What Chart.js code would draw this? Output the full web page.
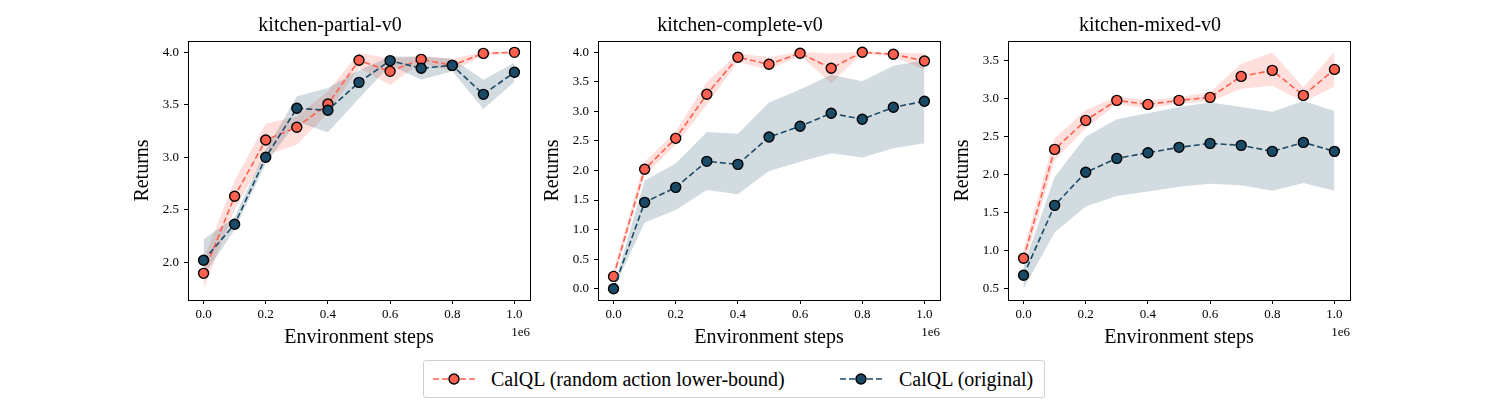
<!DOCTYPE html>
<html>
<head>
<meta charset="utf-8">
<script src="https://cdn.jsdelivr.net/npm/chart.js@4/dist/chart.umd.min.js"></script>
<style>
  html, body { margin: 0; padding: 0; background: #fff; width: 1500px; height: 400px; overflow: hidden; }
  canvas { position: absolute; top: 0; }
  #legend { position: absolute; left: 423px; top: 360px; width: 620px; height: 36px;
    border: 1px solid #d0d0d0; border-radius: 3px; font-family: "Liberation Serif", serif; font-size: 20px; color: #000; }
  .li { position: absolute; top: 0; height: 36px; line-height: 36px; white-space: nowrap; }
  .li svg { position: absolute; top: 11px; left: 0; }
  .li span { position: absolute; top: 0; }
</style>
</head>
<body>
<canvas id="c0" width="410" height="352" style="left:130px"></canvas>
<canvas id="c1" width="410" height="352" style="left:540px"></canvas>
<canvas id="c2" width="410" height="352" style="left:950px"></canvas>
<div id="legend"></div>
<script>
// ---------- data ----------
const steps = [0, 100000, 200000, 300000, 400000, 500000, 600000, 700000, 800000, 900000, 1000000];
const xTicks = [0, 200000, 400000, 600000, 800000, 1000000];
const titles = ["kitchen-partial-v0", "kitchen-complete-v0", "kitchen-mixed-v0"];
const seriesNames = ["CalQL (random action lower-bound)", "CalQL (original)"];

// kitchen-partial-v0
const partialRandMean = [1.895, 2.629, 3.165, 3.286, 3.508, 3.924, 3.819, 3.933, 3.876, 3.99, 4.0];
const partialRandUpper = [2.03, 2.78, 3.32, 3.39, 3.63, 3.997, 3.94, 3.965, 3.94, 4.0, 4.0];
const partialRandLower = [1.75, 2.50, 3.02, 3.12, 3.42, 3.85, 3.69, 3.90, 3.82, 3.97, 3.99];
const partialOrigMean = [2.019, 2.362, 3.0, 3.467, 3.448, 3.714, 3.921, 3.848, 3.876, 3.60, 3.81];
const partialOrigUpper = [2.22, 2.43, 3.07, 3.58, 3.66, 3.83, 3.96, 3.96, 3.94, 3.74, 3.90];
const partialOrigLower = [1.87, 2.31, 2.94, 3.34, 3.24, 3.56, 3.88, 3.74, 3.82, 3.46, 3.72];

// kitchen-complete-v0
const completeRandMean = [0.209, 2.02, 2.544, 3.289, 3.915, 3.797, 3.983, 3.729, 4.0, 3.966, 3.853];
const completeRandUpper = [0.32, 2.15, 2.66, 3.50, 3.98, 3.915, 4.01, 3.98, 4.01, 3.995, 3.98];
const completeRandLower = [0.15, 1.92, 2.43, 3.11, 3.84, 3.70, 3.95, 3.475, 3.98, 3.93, 3.70];
const completeOrigMean = [0.0, 1.461, 1.715, 2.155, 2.104, 2.567, 2.748, 2.968, 2.866, 3.069, 3.171];
const completeOrigUpper = [0.03, 1.83, 2.12, 2.65, 2.62, 3.15, 3.37, 3.62, 3.51, 3.77, 3.86];
const completeOrigLower = [-0.01, 1.12, 1.33, 1.67, 1.60, 1.99, 2.15, 2.29, 2.22, 2.375, 2.46];

// kitchen-mixed-v0
const mixedRandMean = [0.899, 2.333, 2.715, 2.978, 2.925, 2.978, 3.018, 3.294, 3.373, 3.044, 3.386];
const mixedRandUpper = [1.01, 2.48, 2.85, 3.03, 2.98, 3.02, 3.09, 3.46, 3.61, 3.15, 3.62];
const mixedRandLower = [0.79, 2.19, 2.61, 2.93, 2.87, 2.94, 2.96, 3.13, 3.17, 2.96, 3.16];
const mixedOrigMean = [0.675, 1.596, 2.031, 2.215, 2.289, 2.36, 2.412, 2.386, 2.307, 2.425, 2.307];
const mixedOrigUpper = [0.79, 1.97, 2.50, 2.73, 2.81, 2.89, 2.95, 2.89, 2.83, 2.97, 2.84];
const mixedOrigLower = [0.50, 1.24, 1.58, 1.72, 1.78, 1.84, 1.88, 1.86, 1.79, 1.89, 1.79];

// axis ranges (matplotlib auto-limits)
const yRanges = [[1.641, 4.108], [-0.19, 4.19], [0.35, 3.76]];
const xRange = [-50000, 1050000];

const panels = [
  [partialRandMean, partialRandUpper, partialRandLower, partialOrigMean, partialOrigUpper, partialOrigLower],
  [completeRandMean, completeRandUpper, completeRandLower, completeOrigMean, completeOrigUpper, completeOrigLower],
  [mixedRandMean, mixedRandUpper, mixedRandLower, mixedOrigMean, mixedOrigUpper, mixedOrigLower]
];

// ---------- styles ----------
const RED = '#FF6150';
const BLUE = '#1B4A66';
const RED_FILL = 'rgba(255,97,80,0.2)';
const BLUE_FILL = 'rgba(27,74,102,0.2)';
const FONT = '"Liberation Serif", "Times New Roman", serif';

const pts = arr => arr.map((v, i) => ({x: steps[i], y: v}));

const framePlugin = {
  id: 'frame',
  afterDraw(chart) {
    const {ctx, chartArea: a} = chart;
    ctx.save();
    ctx.strokeStyle = '#000';
    ctx.lineWidth = 1;
    ctx.strokeRect(Math.round(a.left) + 0.5, Math.round(a.top) + 0.5, Math.round(a.right - a.left), Math.round(a.bottom - a.top));
    ctx.fillStyle = '#000';
    ctx.font = '13px ' + FONT;
    ctx.textAlign = 'right';
    ctx.textBaseline = 'middle';
    ctx.fillText('1e6', a.right, 333);
    ctx.restore();
  }
};

function meanDs(label, data, color) {
  return {
    label, data: pts(data), borderColor: color, backgroundColor: color,
    borderWidth: 1.6, borderDash: [6, 3], pointRadius: 5, pointHoverRadius: 5,
    pointBackgroundColor: color, pointBorderColor: '#000', pointBorderWidth: 1.4,
    fill: false, tension: 0
  };
}
function bandDs(data, fill, color) {
  return {
    label: '', data: pts(data), borderWidth: 0, borderColor: 'rgba(0,0,0,0)',
    pointRadius: 0, pointHoverRadius: 0, backgroundColor: color, fill, tension: 0
  };
}

panels.forEach((p, k) => {
  const [rm, ru, rl, om, ou, ol] = p;
  new Chart(document.getElementById('c' + k), {
    type: 'line',
    data: {
      datasets: [
        meanDs(seriesNames[1], om, BLUE),
        meanDs(seriesNames[0], rm, RED),
        bandDs(ou, false, BLUE_FILL),
        bandDs(ol, '-1', BLUE_FILL),
        bandDs(ru, false, RED_FILL),
        bandDs(rl, '-1', RED_FILL)
      ]
    },
    options: {
      responsive: false, animation: false, devicePixelRatio: 1,
      layout: {padding: {left: 0, right: 10, top: 0, bottom: 0}},
      plugins: {
        legend: {display: false}, tooltip: {enabled: false},
        title: {display: true, text: titles[k], color: '#000',
          font: {family: FONT, size: 20, weight: 'normal'}, padding: {top: 14, bottom: 3}}
      },
      scales: {
        x: {
          type: 'linear', min: xRange[0], max: xRange[1],
          afterBuildTicks: s => { s.ticks = xTicks.map(v => ({value: v})); },
          afterFit: s => { s.height = 52; },
          border: {display: true, color: '#000', width: 1},
          grid: {drawOnChartArea: false, drawTicks: true, tickLength: 4, tickColor: '#000'},
          ticks: {color: '#000', padding: 3, maxRotation: 0, autoSkip: false,
            font: {family: FONT, size: 13}, callback: v => (v / 1e6).toFixed(1)},
          title: {display: true, text: 'Environment steps', color: '#000',
            font: {family: FONT, size: 20}, padding: {top: 0, bottom: 2}}
        },
        y: {
          type: 'linear', min: yRanges[k][0], max: yRanges[k][1],
          afterFit: s => { s.width = 58; },
          border: {display: true, color: '#000', width: 1},
          grid: {drawOnChartArea: false, drawTicks: true, tickLength: 4, tickColor: '#000'},
          ticks: {stepSize: 0.5, includeBounds: false, color: '#000', padding: 5,
            font: {family: FONT, size: 13}, callback: v => v.toFixed(1)},
          title: {display: true, text: 'Returns', color: '#000',
            font: {family: FONT, size: 20}, padding: {top: 1, bottom: 0}}
        }
      }
    },
    plugins: [framePlugin]
  });
});

// ---------- legend ----------
const legendItems = [
  {name: seriesNames[0], color: RED, sx: 7, tx: 67},
  {name: seriesNames[1], color: BLUE, sx: 414, tx: 475}
];
const lg = document.getElementById('legend');
legendItems.forEach(it => {
  const d = document.createElement('div');
  d.className = 'li';
  d.style.left = it.sx + 'px';
  d.innerHTML = '<svg width="46" height="14"><line x1="2" y1="7" x2="44" y2="7" stroke="' + it.color +
    '" stroke-width="1.6" stroke-dasharray="6 3"/><circle cx="23" cy="7" r="5" fill="' + it.color +
    '" stroke="#000" stroke-width="1.4"/></svg><span style="left:' + (it.tx - it.sx) + 'px">' + it.name + '</span>';
  lg.appendChild(d);
});
</script>
</body>
</html>
